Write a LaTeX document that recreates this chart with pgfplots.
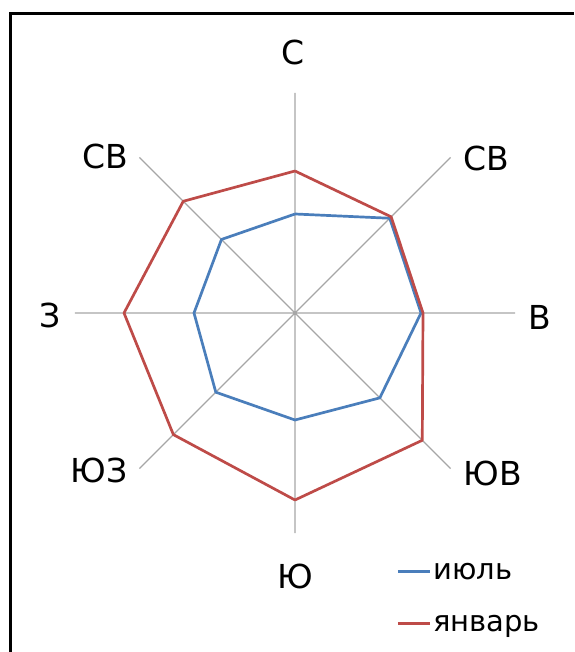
\documentclass[border=0pt]{standalone}
\usepackage{fontspec}
\setmainfont{DejaVu Sans}
\usepackage{pgfplots}
\usepgfplotslibrary{polar}
\pgfplotsset{compat=1.18}

\definecolor{julblue}{HTML}{4A7EBB}
\definecolor{janred}{HTML}{BE4B48}
\definecolor{spoke}{HTML}{A6A6A6}

\begin{document}
\begin{tikzpicture}[x=0.5pt, y=0.5pt]
\useasboundingbox (0,0) rectangle (574,652);
% frame (only top and left edges are in the crop)
\draw[line width=1.25pt] (10.5,0) -- (10.5,638.5) -- (574,638.5);

\begin{polaraxis}[
    at={(295,339)}, anchor=center,
    scale only axis,
    width=220pt, height=220pt,
    ymin=0, ymax=22,
    xtick={0,45,...,315},
    xticklabels={,,,,,,,},
    ytick=\empty,
    xmajorgrids,
    major grid style={draw=spoke, line width=0.7pt},
    axis line style={draw=none},
    tick style={draw=none},
    legend cell align=left,
    legend style={draw=none, fill=none, inner sep=0pt,
        at={(0.73,-0.05)}, anchor=north west,
        font=\fontsize{14.5}{16}\selectfont,
        row sep=10pt,
        nodes={inner sep=1pt, text height=11pt, text depth=3pt}},
    legend image code/.code={\draw[#1, line width=1.3pt] (0pt,0pt) -- (16pt,0pt);},
]
% июль
\addplot[julblue, line width=1.35pt, line join=round, no marks] coordinates {
    (90,9.9) (45,13.4) (0,12.6) (-45,12.0) (-90,10.7) (-135,11.2) (180,10.1) (135,10.4) (90,9.9)
};
% январь
\addplot[janred, line width=1.35pt, line join=round, no marks] coordinates {
    (90,14.2) (45,13.6) (0,12.8) (-45,18.0) (-90,18.7) (-135,17.2) (180,17.1) (135,15.8) (90,14.2)
};
\legend{июль, январь}
\end{polaraxis}

% direction labels
\begin{scope}[every node/.style={font=\fontsize{16.5}{18}\selectfont, inner sep=0pt}]
\node at (293,600) {С};
\node at (105,496) {СВ};
\node at (486,494) {СВ};
\node at (50,337) {З};
\node at (540,335) {В};
\node at (99,182) {ЮЗ};
\node at (493,179) {ЮВ};
\node at (295,76) {Ю};
\end{scope}
\end{tikzpicture}
\end{document}
